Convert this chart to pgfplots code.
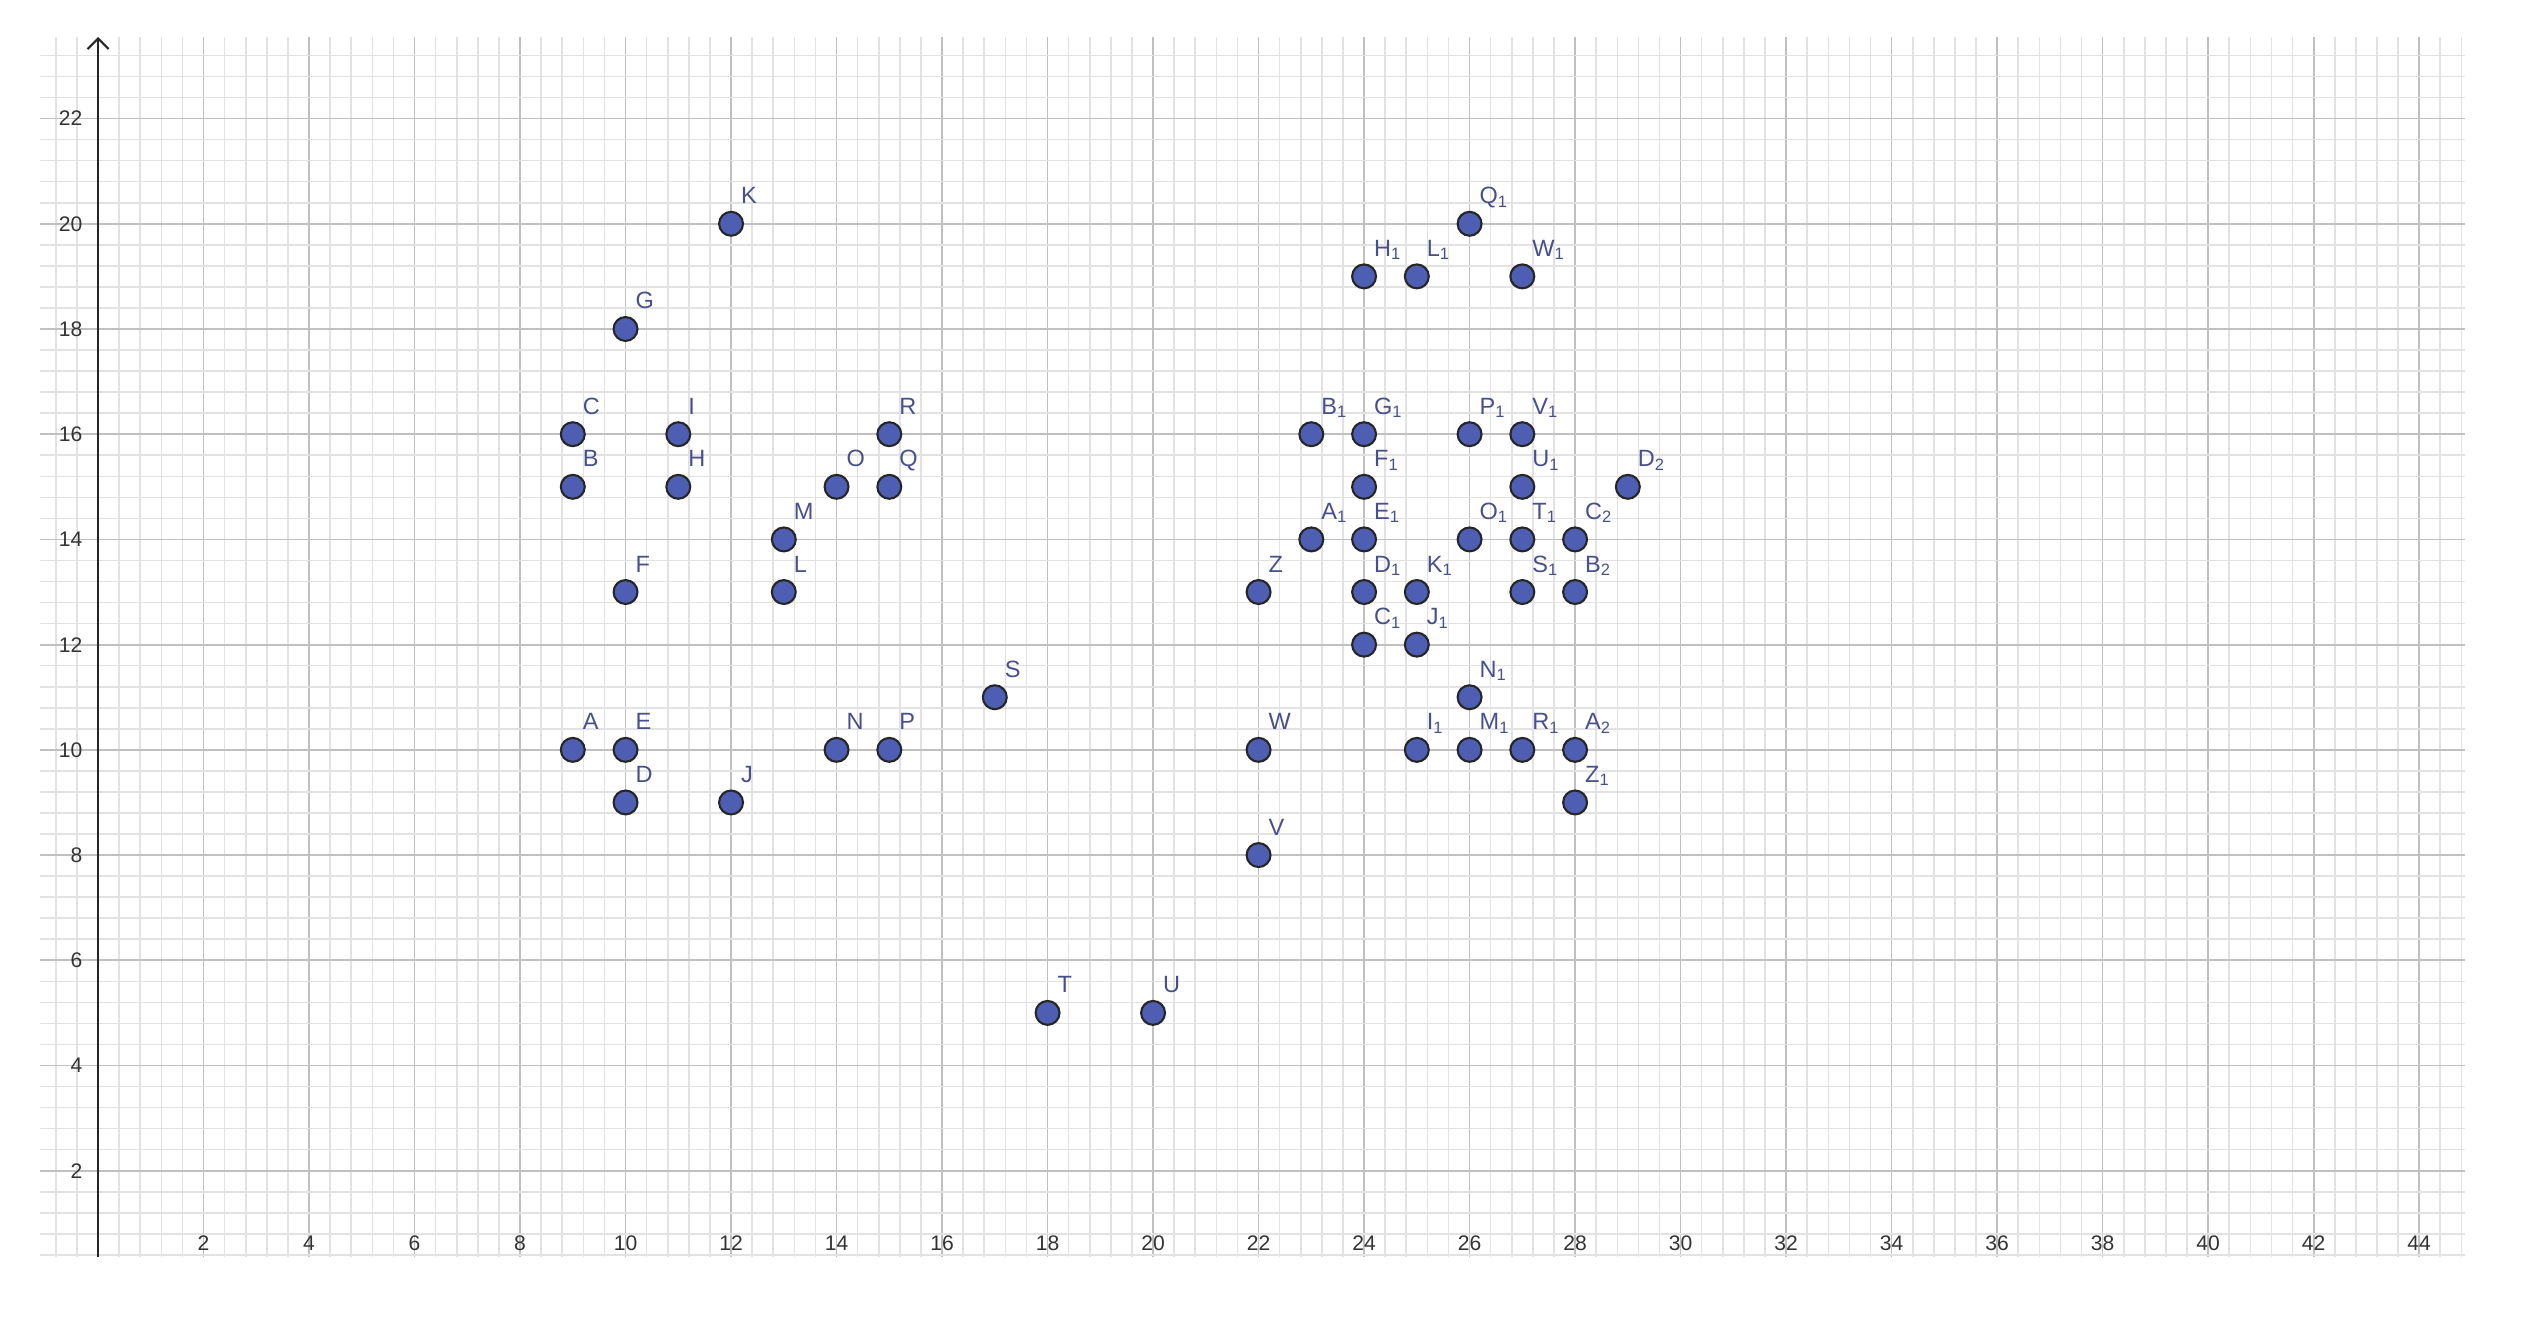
\documentclass[border=0pt]{standalone}
\usepackage{fontspec}
\setmainfont{Liberation Sans}
\usepackage{pgfplots}
\pgfplotsset{compat=1.18}
\usetikzlibrary{arrows.meta}

\definecolor{ptfill}{RGB}{78,94,178}
\definecolor{lbl}{RGB}{72,80,140}
\definecolor{majgrid}{RGB}{192,192,192}
\definecolor{mingrid}{RGB}{226,226,226}

\begin{document}
\begin{tikzpicture}
\useasboundingbox (0,0) rectangle (25.23,13.18);
\begin{axis}[
    at={(0.40cm,0.61cm)}, anchor=south west,
    scale only axis, width=24.25cm, height=12.20cm,
    xmin=-1.1, xmax=44.87, ymin=0.36, ymax=23.55,
    axis x line=bottom, axis y line=middle,
    x axis line style={draw=none},
    y axis line style={draw=black!85, line width=0.6pt, -{Straight Barb[length=3pt,width=6pt]}},
    xtick={2,4,...,44}, ytick={2,4,...,22},
    minor xtick={-0.8,-0.4,...,44.8}, minor ytick={0.4,0.8,...,23.2},
    major tick length=0pt, minor tick length=0pt,
    grid=both,
    major grid style={draw=majgrid, line width=0.5pt},
    minor grid style={draw=mingrid, line width=0.45pt},
    /pgf/number format/assume math mode=true,
    tick label style={font=\fontsize{6}{7}\selectfont, text=black!80},
    xticklabel style={anchor=center, inner sep=0pt, yshift=0.14cm},
    yticklabel style={anchor=east, inner sep=0pt, xshift=-0.15cm},
]
\addplot[only marks, mark=*, mark size=3.4pt,
    mark options={fill=ptfill, draw=black!85, line width=0.6pt},
    point meta=explicit symbolic, nodes near coords,
    every node near coord/.append style={anchor=base west, xshift=0.09cm, yshift=0.2cm,
        inner sep=0pt, font=\fontsize{6.7}{8}\selectfont, text=lbl}]
coordinates {
    (9,10) [A] (9,15) [B] (9,16) [C] (10,9) [D] (10,10) [E] (10,13) [F]
    (10,18) [G] (11,15) [H] (11,16) [I] (12,9) [J] (12,20) [K] (13,13) [L]
    (13,14) [M] (14,10) [N] (14,15) [O] (15,10) [P] (15,15) [Q] (15,16) [R]
    (17,11) [S] (18,5) [T] (20,5) [U] (22,8) [V] (22,10) [W] (22,13) [Z]
    (23,14) [A\textsubscript{1}] (23,16) [B\textsubscript{1}] (24,12) [C\textsubscript{1}]
    (24,13) [D\textsubscript{1}] (24,14) [E\textsubscript{1}] (24,15) [F\textsubscript{1}]
    (24,16) [G\textsubscript{1}] (24,19) [H\textsubscript{1}] (25,10) [I\textsubscript{1}]
    (25,12) [J\textsubscript{1}] (25,13) [K\textsubscript{1}] (25,19) [L\textsubscript{1}]
    (26,10) [M\textsubscript{1}] (26,11) [N\textsubscript{1}] (26,14) [O\textsubscript{1}]
    (26,16) [P\textsubscript{1}] (26,20) [Q\textsubscript{1}] (27,10) [R\textsubscript{1}]
    (27,13) [S\textsubscript{1}] (27,14) [T\textsubscript{1}] (27,15) [U\textsubscript{1}]
    (27,16) [V\textsubscript{1}] (27,19) [W\textsubscript{1}] (28,9) [Z\textsubscript{1}]
    (28,10) [A\textsubscript{2}] (28,13) [B\textsubscript{2}] (28,14) [C\textsubscript{2}]
    (29,15) [D\textsubscript{2}]
};
\end{axis}
\end{tikzpicture}
\end{document}
